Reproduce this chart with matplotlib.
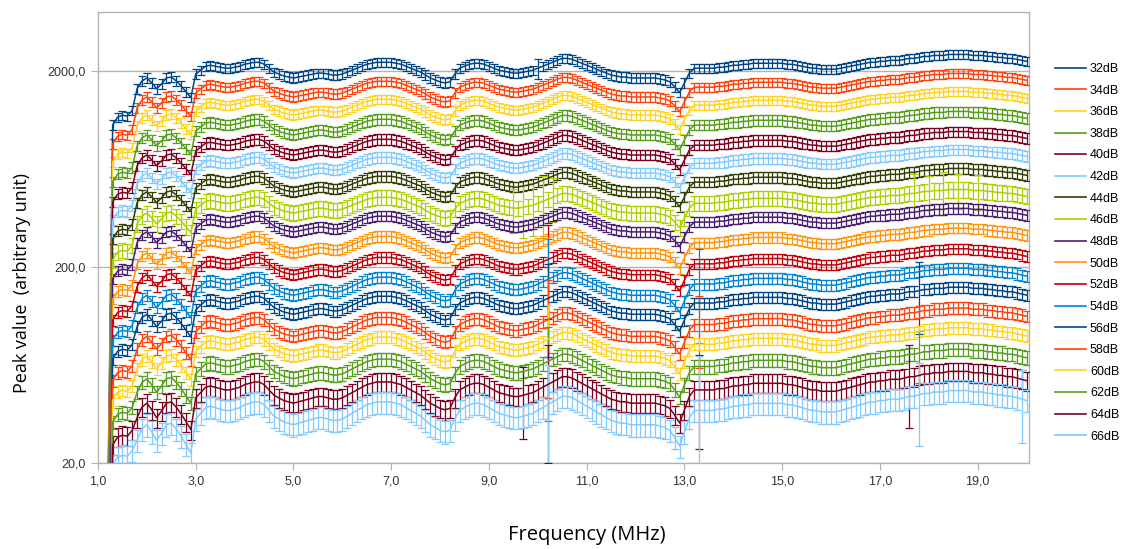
import numpy as np
import matplotlib
matplotlib.use("Agg")
import matplotlib.pyplot as plt
from matplotlib.lines import Line2D
from matplotlib.ticker import FixedLocator, FixedFormatter, NullLocator

# frequency grid of the measurement, 1.2 ... 20.0 MHz in 0.1 MHz steps
freq_mhz = [round(0.1 * i, 1) for i in range(12, 201)]

# shape of the response (dB relative to the 15 MHz level)
profile_db = [
    -45, -6.3, -5.5, -5.3, -5.4, -4.8, -2.6, -1.8, -1.5, -2.0,   # 1.2 - 2.1
    -2.6, -2.1, -1.5, -1.4, -1.8, -2.3, -2.9, -3.5, -1.1, -0.7,  # 2.2 - 3.1
    -0.3, -0.2, -0.3, -0.4, -0.5, -0.5, -0.4, -0.3, -0.1, 0.0,   # 3.2 - 4.1
    0.1, 0.1, -0.1, -0.5, -0.9, -1.1, -1.3, -1.4, -1.5, -1.4,    # 4.2 - 5.1
    -1.3, -1.2, -1.1, -1.0, -1.0, -1.1, -1.2, -1.2, -1.1, -0.9,  # 5.2 - 6.1
    -0.7, -0.5, -0.3, -0.1, 0.0, 0.1, 0.1, 0.1, 0.1, 0.0,        # 6.2 - 7.1
    -0.1, -0.3, -0.5, -0.7, -0.9, -1.2, -1.5, -1.7, -1.9, -2.0,  # 7.2 - 8.1
    -1.9, -1.1, -0.5, -0.3, -0.1, 0.0, 0.0, -0.1, -0.3, -0.5,    # 8.2 - 9.1
    -0.7, -0.8, -0.9, -1.0, -1.0, -0.9, -0.8, -0.7, -0.5, -0.3,  # 9.2 - 10.1
    -0.1, 0.1, 0.3, 0.5, 0.5, 0.4, 0.2, 0.0, -0.2, -0.4,         # 10.2 - 11.1
    -0.6, -0.8, -1.0, -1.2, -1.3, -1.4, -1.4, -1.5, -1.5, -1.5,  # 11.2 - 12.1
    -1.5, -1.5, -1.5, -1.6, -1.7, -1.9, -2.4, -3.0, -2.0, -1.0,  # 12.2 - 13.1
    -0.5, -0.5, -0.5, -0.5, -0.5, -0.4, -0.4, -0.3, -0.2, -0.2,  # 13.2 - 14.1
    -0.1, -0.1, 0.0, 0.0, 0.0, 0.0, 0.0, 0.0, 0.0, -0.1,         # 14.2 - 15.1
    -0.1, -0.2, -0.3, -0.4, -0.5, -0.5, -0.6, -0.6, -0.6, -0.6,  # 15.2 - 16.1
    -0.5, -0.4, -0.3, -0.2, -0.1, 0.0, 0.1, 0.1, 0.2, 0.2,       # 16.2 - 17.1
    0.3, 0.3, 0.3, 0.4, 0.5, 0.5, 0.6, 0.7, 0.7, 0.8,            # 17.2 - 18.1
    0.8, 0.8, 0.9, 0.9, 0.9, 0.9, 0.9, 0.8, 0.8, 0.8,            # 18.2 - 19.1
    0.7, 0.7, 0.6, 0.6, 0.5, 0.5, 0.4, 0.3, 0.2,                 # 19.2 - 20.0
]

gains = ["32dB", "34dB", "36dB", "38dB", "40dB", "42dB", "44dB", "46dB", "48dB",
         "50dB", "52dB", "54dB", "56dB", "58dB", "60dB", "62dB", "64dB", "66dB"]
# peak value of each curve at 15 MHz
level_15mhz = [2190, 1752, 1418, 1121, 886, 717, 574, 448, 359,
               283, 221, 175, 140, 109, 86.5, 66.8, 51, 40.3]
# how much stronger the ripples are on each curve than on the 32dB one
ripple_scale = [1.0, 1.0, 1.0, 1.0, 1.0, 1.0, 1.0, 1.0, 1.0,
                1.05, 1.1, 1.15, 1.15, 1.2, 1.2, 1.25, 1.35, 1.45]
# typical relative error of each curve
rel_err = [0.055, 0.055, 0.055, 0.06, 0.06, 0.06, 0.06, 0.09, 0.06,
           0.06, 0.06, 0.065, 0.065, 0.07, 0.07, 0.08, 0.11, 0.13]
# points with a much larger error bar: gain -> [(freq, relative error)]
big_err = {
    "32dB": [(10.0, 0.12)],
    "46dB": [(9.5, 0.25), (9.7, 0.3), (9.9, 0.3), (10.1, 0.35), (10.3, 0.25),
             (17.7, 0.25), (18.0, 0.2), (18.3, 0.25), (18.6, 0.2), (19.0, 0.2)],
    "52dB": [(10.2, 0.5)],
    "54dB": [(10.2, 0.6), (13.3, 0.5)],
    "56dB": [(10.2, 0.5), (17.8, 0.4)],
    "58dB": [(10.2, 0.6), (13.3, 0.4)],
    "60dB": [(10.2, 0.5)],
    "62dB": [(10.2, 0.5), (17.8, 0.3)],
    "64dB": [(10.2, 0.6), (13.3, 0.5), (17.6, 0.45), (9.7, 0.4)],
    "66dB": [(10.2, 0.6), (13.3, 0.9), (17.8, 0.45), (19.9, 0.4)],
}

palette = ["#004586", "#ff420e", "#ffd320", "#579d1c", "#7e0021", "#83caff",
           "#314004", "#aecf00", "#4b1f6f", "#ff950e", "#c5000b", "#0084d1"]

narrow = ["Liberation Sans", "DejaVu Sans"]

fig = plt.figure(figsize=(11.22, 5.49), dpi=100)
ax = fig.add_axes([98 / 1122, 1 - 463 / 549, 931 / 1122, 451 / 549])

f = np.array(freq_mhz)
prof = np.array(profile_db)
handles = []
for i, g in enumerate(gains):
    col = palette[i % len(palette)]
    db = np.where(prof > -4, prof * ripple_scale[i], prof)
    vals = level_15mhz[i] * 10 ** (db / 20.0)
    frac = np.full(len(f), rel_err[i])
    for fq, e in big_err.get(g, []):
        frac[np.argmin(np.abs(f - fq))] = e
    ax.errorbar(f, vals, yerr=vals * frac, color=col, lw=1.1, elinewidth=0.9,
                capsize=2.8, capthick=0.9, zorder=3)
    handles.append(Line2D([], [], color=col, lw=1.2))

ax.set_yscale("log")
ax.set_xlim(1, 20.05)
ax.set_ylim(20, 4000)

ax.yaxis.set_major_locator(FixedLocator([20, 200, 2000]))
ax.yaxis.set_major_formatter(FixedFormatter(["20,0", "200,0", "2000,0"]))
ax.yaxis.set_minor_locator(NullLocator())
xt = [1, 3, 5, 7, 9, 11, 13, 15, 17, 19]
ax.xaxis.set_major_locator(FixedLocator(xt))
ax.xaxis.set_major_formatter(FixedFormatter(["%d,0" % v for v in xt]))

ax.grid(axis="y", color="#b3b3b3", lw=1.0, zorder=0)
for s in ax.spines.values():
    s.set_color("#b3b3b3")
    s.set_linewidth(1.0)
ax.tick_params(direction="out", length=5, color="#b3b3b3", labelcolor="#333333",
               labelsize=9, pad=4)
for lab in ax.get_xticklabels() + ax.get_yticklabels():
    lab.set_family(narrow)

fig.text(22 / 1122, 1 - 283 / 549, "Peak value  (arbitrary unit)", rotation=90,
         ha="center", va="center", fontsize=13, family=["Open Sans", "DejaVu Sans"])
fig.text(587 / 1122, 1 - 535 / 549, "Frequency (MHz)", ha="center", va="center",
         fontsize=14.5, family=["Open Sans", "DejaVu Sans"])

fig.legend(handles, gains, loc="upper left", bbox_to_anchor=(1055 / 1122, 1 - 63 / 549),
           frameon=False, prop={"family": narrow, "size": 9}, labelspacing=0.77,
           handlelength=2.5, handletextpad=0.3, borderaxespad=0, borderpad=0)

fig.savefig("out.png", dpi=100)
